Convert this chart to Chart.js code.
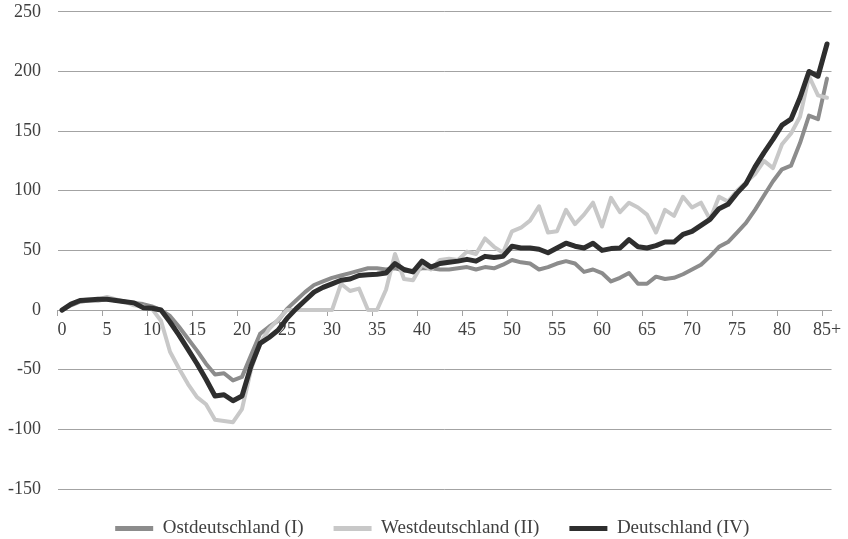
<!DOCTYPE html>
<html>
<head>
<meta charset="utf-8">
<script src="https://cdn.jsdelivr.net/npm/chart.js@4.4.0/dist/chart.umd.min.js"></script>
<style>
  html, body { margin: 0; padding: 0; background: #ffffff; }
  #wrap { width: 848px; height: 539px; position: relative; }
</style>
</head>
<body>
<div id="wrap"><canvas id="c"></canvas></div>
<script>
const categories = [];
for (let i = 0; i < 85; i++) categories.push(String(i));
categories.push('85+');

const seriesNames = ['Ostdeutschland (I)', 'Westdeutschland (II)', 'Deutschland (IV)'];

const ostValues = [
  0, 4, 7, 8, 8, 9, 8, 7, 6, 5,
  3, 0, -5, -14, -24, -34, -45, -54, -53, -59,
  -56, -38, -20, -14, -9, 1, 8, 15, 21, 24,
  27, 29, 31, 33, 35, 35, 34, 35, 33, 33,
  35, 35, 34, 34, 35, 36, 34, 36, 35, 38,
  42, 40, 39, 34, 36, 39, 41, 39, 32, 34,
  31, 24, 27, 31, 22, 22, 28, 26, 27, 30,
  34, 38, 45, 53, 57, 65, 73, 84, 96, 108,
  118, 121, 140, 163, 160, 194
];

const westValues = [
  0, 5, 8, 9, 9, 11, 9, 7, 4, 3,
  1, -9, -35, -49, -62, -73, -79, -92, -93, -94,
  -83, -50, -28, -16, -8, 0, 0, 0, 0, 0,
  0, 22, 16, 18, 0, 0, 17, 47, 26, 25,
  38, 34, 42, 43, 42, 49, 47, 60, 53, 48,
  66, 69, 75, 87, 65, 66, 84, 72, 80, 90,
  70, 94, 82, 90, 86, 80, 65, 84, 79, 95,
  86, 90, 76, 95, 91, 100, 107, 114, 125, 119,
  139, 148, 162, 196, 180, 178
];

const deutschValues = [
  0, 5, 8, 8.5, 9, 9, 8, 7, 6, 2,
  1.5, 0, -10, -21, -33, -45, -58, -72, -71, -76,
  -72, -47, -28, -23, -17, -7, 1, 8, 15, 19,
  22, 25, 26, 29, 29.5, 30, 31, 39, 34, 32,
  41, 36, 39, 40, 41, 42.5, 41, 45, 44, 45,
  53.5, 52, 52, 51, 48, 52, 56, 53.5, 52, 56,
  50, 51.5, 52, 59, 53, 52, 54, 57, 57, 63.5,
  66, 71, 76, 85, 88.6, 98, 106, 120, 132, 143,
  155, 160, 178, 200, 196, 223
];

const yTicks = [-150, -100, -50, 0, 50, 100, 150, 200, 250];

const FONT = "'Liberation Serif', 'Times New Roman', serif";
const TEXT = '#404040';
const GRID = '#a3a3a3';

const legendShift = {
  id: 'legendShift',
  afterLayout(chart) {
    if (chart.legend) { chart.legend.left += 13; chart.legend.right += 13; }
  }
};

new Chart(document.getElementById('c'), {
  type: 'line',
  plugins: [legendShift],
  data: {
    labels: categories,
    datasets: [
      { label: seriesNames[0], data: ostValues, borderColor: '#8c8c8c', backgroundColor: '#8c8c8c', borderWidth: 4, order: 3 },
      { label: seriesNames[1], data: westValues, borderColor: '#c8c8c8', backgroundColor: '#c8c8c8', borderWidth: 4, order: 2 },
      { label: seriesNames[2], data: deutschValues, borderColor: '#2e2e2e', backgroundColor: '#2e2e2e', borderWidth: 5, order: 1 }
    ]
  },
  options: {
    responsive: true,
    maintainAspectRatio: false,
    animation: false,
    devicePixelRatio: 1,
    layout: { padding: { left: 7, right: 16.5, top: 1, bottom: -9 } },
    elements: {
      point: { radius: 0, hoverRadius: 0 },
      line: { tension: 0, borderJoinStyle: 'round', borderCapStyle: 'round' }
    },
    plugins: {
      tooltip: { enabled: false },
      legend: {
        position: 'bottom',
        labels: {
          font: { family: FONT, size: 19 },
          color: TEXT,
          boxWidth: 38,
          boxHeight: 5,
          padding: 30,
          generateLabels: (chart) => chart.data.datasets.map((ds, i) => ({
            text: ds.label,
            fillStyle: ds.borderColor,
            strokeStyle: ds.borderColor,
            lineWidth: 0,
            fontColor: TEXT,
            datasetIndex: i,
            hidden: false
          }))
        }
      }
    },
    scales: {
      x: {
        type: 'category',
        position: { y: 0 },
        offset: true,
        grid: {
          offset: true,
          drawOnChartArea: false,
          drawTicks: true,
          tickLength: 5,
          tickColor: (ctx) => (typeof ctx.index === 'number' && ctx.index % 5 === 0) ? GRID : 'rgba(0,0,0,0)'
        },
        border: { display: true, color: GRID, width: 1 },
        ticks: {
          autoSkip: false,
          maxRotation: 0,
          minRotation: 0,
          padding: 4,
          font: { family: FONT, size: 18 },
          color: TEXT,
          callback: function (value, index) { return index % 5 === 0 ? categories[index] : ''; }
        }
      },
      y: {
        min: yTicks[0],
        max: yTicks[yTicks.length - 1],
        afterBuildTicks: (scale) => { scale.ticks = yTicks.map(v => ({ value: v })); },
        afterFit: (scale) => { scale.width = 50.5; },
        grid: { color: GRID, lineWidth: 1, drawTicks: true, tickLength: 15.5, tickColor: 'rgba(0,0,0,0)' },
        border: { display: false },
        ticks: {
          padding: 1,
          font: { family: FONT, size: 18 },
          color: TEXT
        }
      }
    }
  }
});
</script>
</body>
</html>
